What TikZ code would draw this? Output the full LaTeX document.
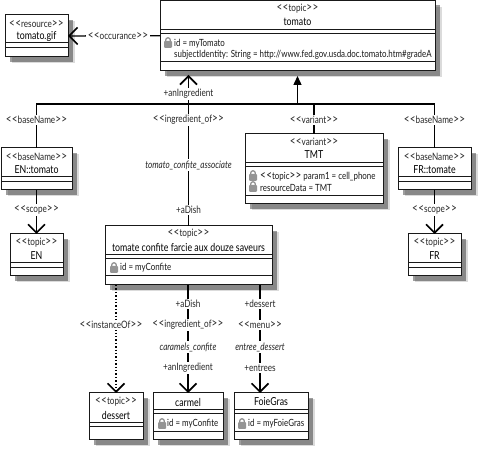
\documentclass[tikz,border=0pt]{standalone}
\usepackage{fontspec}
\setmainfont[FakeStretch=0.8]{Lato}
\usetikzlibrary{arrows.meta,shadows}
\newcommand{\lgl}{{\fontsize{12.5}{12}\selectfont<}}
\newcommand{\rgl}{{\fontsize{12.5}{12}\selectfont>}}
\newcommand{\sterm}[1]{\lgl\kern.3pt\lgl#1\rgl\kern.3pt\rgl}
\tikzset{
  x=1pt,y=-1pt,
  ubox/.style={draw=black!90,fill=white,line width=1pt,inner sep=0pt,outer sep=0pt,
    drop shadow={shadow xshift=6.5pt,shadow yshift=-6.5pt,fill=black,opacity=.14},
    drop shadow={shadow xshift=5pt,shadow yshift=-5pt,fill=black,opacity=.38}},
  sepline/.style={line width=1pt,draw=black!90},
  txt/.style={font=\fontsize{10.2}{11}\selectfont,inner sep=0pt,text=black!85},
  nametxt/.style={font=\fontsize{11}{12}\selectfont,inner sep=0pt,text=black},
  attr/.style={font=\fontsize{9.9}{11}\selectfont,inner sep=0pt,anchor=west,text=black!90},
  lab/.style={font=\fontsize{10.2}{11}\selectfont,inner sep=1.5pt,fill=white,text=black!85},
  ilab/.style={lab,font=\fontsize{10.2}{11}\selectfont\itshape},
  conn/.style={line width=1.4pt,draw=black},
  opena/.style={conn,-{Straight Barb[length=8.5pt,width=17pt,line width=1.6pt]}},
  fulla/.style={conn,-{Triangle[length=9pt,width=8pt]}},
  dota/.style={opena,dotted},
}
\newcommand{\ubox}[5]{%
  \pgfmathsetmacro{\ubcx}{(#2+#4)/2}\pgfmathsetmacro{\ubcy}{(#3+#5)/2}%
  \pgfmathsetmacro{\ubw}{#4-#2}\pgfmathsetmacro{\ubh}{#5-#3}%
  \node[ubox,minimum width=\ubw pt,minimum height=\ubh pt] (#1) at (\ubcx,\ubcy) {};}
\newcommand{\sepl}[2]{\draw[sepline] (#1.west |- 0,#2) -- (#1.east |- 0,#2);}
\newcommand{\lockic}[2]{\begin{scope}[shift={(#1,#2)}]
  \draw[black!45,line width=1.2pt,rounded corners=2.2pt] (1.7,5) -- (1.7,0.8) -- (6.3,0.8) -- (6.3,5);
  \fill[black!42,rounded corners=1pt] (0,4) rectangle (8,11);
\end{scope}}
\begin{document}
\begin{tikzpicture}
\useasboundingbox (0,0) rectangle (480,449);
% boxes
\ubox{gif}{5}{15}{68}{57}
\ubox{tomato}{160}{0.5}{435}{71}
\ubox{entomato}{1}{148}{72}{190}
\ubox{en}{10}{234}{63}{276}
\ubox{confite}{105}{226}{272}{285}
\ubox{tmt}{245}{134}{383}{204}
\ubox{frtomato}{398}{148}{471}{190}
\ubox{fr}{408}{234}{461}{276}
\ubox{dessert}{89}{393}{143}{440}
\ubox{carmel}{153}{393}{223}{440}
\ubox{foie}{234}{393}{308}{440}
% compartments
\sepl{gif}{43}\sepl{gif}{48}
\sepl{tomato}{29.5}\sepl{tomato}{33.5}\sepl{tomato}{62}
\sepl{entomato}{177}\sepl{entomato}{182}
\sepl{en}{263}\sepl{en}{268}
\sepl{confite}{255}\sepl{confite}{259}\sepl{confite}{276}
\sepl{tmt}{163}\sepl{tmt}{167}\sepl{tmt}{196}
\sepl{frtomato}{177}\sepl{frtomato}{182}
\sepl{fr}{263}\sepl{fr}{268}
\sepl{dessert}{423}\sepl{dessert}{427}
\sepl{carmel}{410}\sepl{carmel}{414}\sepl{carmel}{432}
\sepl{foie}{410}\sepl{foie}{414}\sepl{foie}{432}
% locks
\lockic{164}{37}
\lockic{249}{170}\lockic{249}{181}
\lockic{110}{262}
\lockic{158}{418}
\lockic{238}{418}
% box texts
\node[txt] (t1) at (36.5,24) {\sterm{resource}};
\node[nametxt] (n1) at (36.5,36.5) {tomato.gif};
\node[txt] (t2) at (297.5,9) {\sterm{topic}};
\node[nametxt] (n2) at (297.5,22) {tomato};
\node[attr] (a2) at (174,43.5) {id = myTomato};
\node[attr] (a3) at (174,55) {subjectIdentity: String = http://www.fed.gov.usda.doc.tomato.htm\#gradeA};
\node[txt] (t3) at (36.5,157) {\sterm{baseName}};
\node[nametxt] (n3) at (36.5,170) {EN::tomato};
\node[txt] (t4) at (36.5,243) {\sterm{topic}};
\node[nametxt] (n4) at (36.5,256) {EN};
\node[txt] (t5) at (188.5,234) {\sterm{topic}};
\node[nametxt] (n5) at (188.5,247) {tomate confite farcie aux douze saveurs};
\node[attr] (a5) at (120,268) {id = myConfite};
\node[txt] (t6) at (314,142) {\sterm{variant}};
\node[nametxt] (n6) at (314,155) {TMT};
\node[attr] (a6) at (260,177) {\sterm{topic} param1 = cell\_phone};
\node[attr] (a7) at (260,188) {resourceData = TMT};
\node[txt] (t8) at (434.5,157) {\sterm{baseName}};
\node[nametxt] (n8) at (434.5,170) {FR::tomate};
\node[txt] (t9) at (434.5,243) {\sterm{topic}};
\node[nametxt] (n9) at (434.5,256) {FR};
\node[txt] (t10) at (116,402) {\sterm{topic}};
\node[nametxt] (n10) at (116,415) {dessert};
\node[nametxt] (n11) at (188,402) {carmel};
\node[attr] (a11) at (167,424) {id = myConfite};
\node[nametxt] (n12) at (271,402) {FoieGras};
\node[attr] (a12) at (248,424) {id = myFoieGras};
% connector ends
\coordinate (busL) at (188.5,104);
\coordinate (ingTip) at (188.5,75);
\coordinate (genTip) at (297.5,76);
\coordinate (genBus) at (297.5,104);
\coordinate (varBus) at (314,104);
\coordinate (occStart) at (tomato.west);
% connectors
\draw[opena] (occStart) -- (gif.east);
\draw[conn] (entomato.north) |- (busL) -- (genBus) -| (frtomato.north);
\draw[opena] (confite.north) -- (ingTip);
\draw[fulla] (genBus) -- (genTip);
\draw[conn] (varBus) -- (tmt.north);
\draw[opena] (entomato.south) -- (en.north);
\draw[opena] (frtomato.south) -- (fr.north);
\coordinate (dotTop) at (116,285);
\coordinate (aTop) at (188,285);
\coordinate (bTop) at (260,285);
\coordinate (bEnd) at (260,393);
\draw[dota] (dotTop) -- (dessert.north);
\draw[opena] (aTop) -- (carmel.north);
\draw[opena] (bTop) -- (bEnd);
% labels
\node[lab] (l1) at (118,36) {\sterm{occurance}};
\node[lab] (l2) at (188.5,94) {+anIngredient};
\node[lab] (l3) at (36.5,120) {\sterm{baseName}};
\node[lab] (l4) at (188.5,120) {\sterm{ingredient\_of}};
\node[lab] (l5) at (314,120) {\sterm{variant}};
\node[lab] (l6) at (434.5,120) {\sterm{baseName}};
\node[ilab] (l7) at (188.5,165) {tomato\_confite\_associate};
\node[lab] (l8) at (188.5,210) {+aDish};
\node[lab] (l9) at (36.5,210) {\sterm{scope}};
\node[lab] (l10) at (434.5,210) {\sterm{scope}};
\node[lab] (l11) at (111,325) {\sterm{instanceOf}};
\node[lab] (l12) at (188,304) {+aDish};
\node[lab] (l13) at (188,325) {\sterm{ingredient\_of}};
\node[ilab] (l14) at (188,347) {caramels\_confite};
\node[lab] (l15) at (188,368) {+anIngredient};
\node[lab] (l16) at (260,304) {+dessert};
\node[lab] (l17) at (260,325) {\sterm{menu}};
\node[ilab] (l18) at (260,347) {entree\_dessert};
\node[lab] (l19) at (260,368) {+entrees};
\end{tikzpicture}
\end{document}
